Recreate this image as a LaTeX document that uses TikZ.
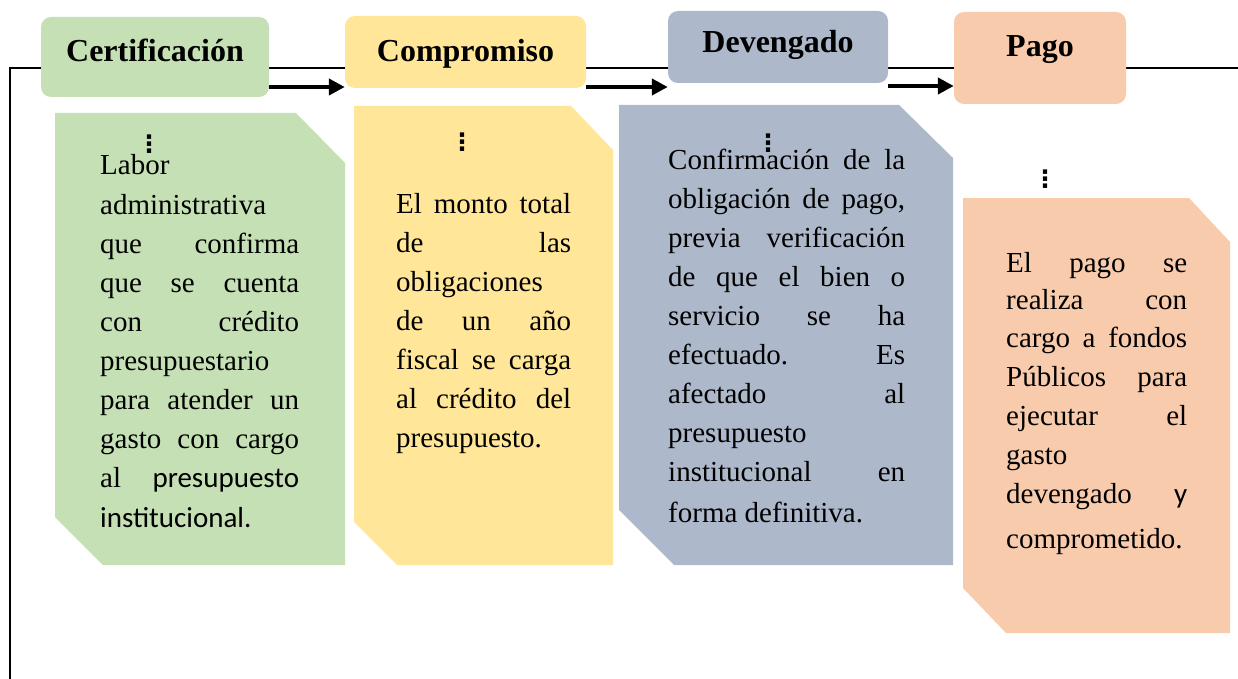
\documentclass[tikz,border=0pt]{standalone}
\usepackage{fontspec}
\setmainfont{Liberation Serif}
\newfontfamily\calib{Carlito}
\newfontfamily\symf{DejaVu Sans}
\usetikzlibrary{arrows.meta}
\definecolor{cgreen}{HTML}{C5E0B4}
\definecolor{cyellow}{HTML}{FFE699}
\definecolor{cblue}{HTML}{ADB9CA}
\definecolor{cpeach}{HTML}{F8CBAD}
\newcommand\jl[2]{\hbox to #1{#2}}
\begin{document}
\begin{tikzpicture}[x=1pt,y=-1pt,
  body/.style={anchor=base west, inner sep=0pt, font=\fontsize{29}{39}\selectfont},
  title/.style={anchor=base, inner xsep=0pt, inner ysep=0pt, rounded corners=10pt,
    font=\fontsize{32}{38}\selectfont\bfseries},
  dots/.style={inner sep=0pt, font=\symf\bfseries\fontsize{24}{24}\selectfont},
  arr/.style={line width=4pt, -{Triangle[length=16pt,width=16pt]}},
  frame/.style={line width=2.5pt}]
\useasboundingbox (0,0) rectangle (1238,679);
\fill[white] (0,0) rectangle (1238,679);
% frame line
\coordinate (fb) at (10,679);
\coordinate (fc) at (10,68);
\coordinate (fr) at (1238,68);
\draw[frame] (fb) -- (fc) -- (fr);
% lower boxes
\fill[cgreen] (55,113) -- (296,113) -- (345,163) -- (345,565) -- (103,565) -- (55,517) -- cycle;
\fill[cyellow] (354,106) -- (571,106) -- (613,150) -- (613,565) -- (397,565) -- (354,522) -- cycle;
\fill[cblue] (619,105) -- (899,105) -- (953,158) -- (953,565) -- (674,565) -- (619,510) -- cycle;
\fill[cpeach] (963,198) -- (1189,198) -- (1230,242) -- (1230,633) -- (1006,633) -- (963,588) -- cycle;
% top boxes
\node[title, fill=cgreen, minimum width=228pt, text height=45pt, text depth=35pt] (cert) at (155,62) {Certificación};
\node[title, fill=cyellow, minimum width=241pt, text height=46pt, text depth=26pt] (comp) at (465.5,62) {Compromiso\hspace{14pt}};
\node[title, fill=cblue, minimum width=220pt, text height=42pt, text depth=30pt] (dev) at (778,53) {Devengado};
\node[title, fill=cpeach, minimum width=172pt, text height=45pt, text depth=47pt] (pago) at (1040,57) {Pago};
% arrows
\draw[arr] (cert.east |- 0,87) -- (comp.west |- 0,87);
\draw[arr] (comp.east |- 0,87) -- (dev.west |- 0,87);
\draw[arr] (dev.east |- 0,86) -- (pago.west |- 0,86);
% dots
\node[dots] (d1) at (149,144) {⋮};
\node[dots] (d2) at (462,142) {⋮};
\node[dots] (d3) at (768,143) {⋮};
\node[dots] (d4) at (1045,179) {⋮};
% green text
\node[body] (g1) at (100,175) {Labor};
\node[body] (g2) at (100,214) {administrativa};
\node[body] (g3) at (100,253) {\jl{199pt}{que\hfill confirma}};
\node[body] (g4) at (100,292) {\jl{199pt}{que\hfill se\hfill cuenta}};
\node[body] (g5) at (100,331) {\jl{199pt}{con\hfill crédito}};
\node[body] (g6) at (100,370) {presupuestario};
\node[body] (g7) at (100,409) {\jl{199pt}{para\hfill atender\hfill un}};
\node[body] (g8) at (100,448) {\jl{199pt}{gasto\hfill con\hfill cargo}};
\node[body] (g9) at (100,487) {\jl{199pt}{al\hfill {\calib presupuesto}}};
\node[body] (g10) at (100,527) {{\calib institucional.}};
% yellow text
\node[body] (y1) at (396,213) {\jl{175pt}{El\hfill monto\hfill total}};
\node[body] (y2) at (396,252) {\jl{175pt}{de\hfill las}};
\node[body] (y3) at (396,291) {obligaciones};
\node[body] (y4) at (396,330) {\jl{175pt}{de\hfill un\hfill año}};
\node[body] (y5) at (396,369) {\jl{175pt}{fiscal\hfill se\hfill carga}};
\node[body] (y6) at (396,408) {\jl{175pt}{al\hfill crédito\hfill del}};
\node[body] (y7) at (396,447) {presupuesto.};
% blue text
\node[body] (b1) at (668,169) {\jl{237pt}{Confirmación\hfill de\hfill la}};
\node[body] (b2) at (668,208) {\jl{237pt}{obligación\hfill de\hfill pago,}};
\node[body] (b3) at (668,247) {\jl{237pt}{previa\hfill verificación}};
\node[body] (b4) at (668,286) {\jl{237pt}{de\hfill que\hfill el\hfill bien\hfill o}};
\node[body] (b5) at (668,325) {\jl{237pt}{servicio\hfill se\hfill ha}};
\node[body] (b6) at (668,364) {\jl{237pt}{efectuado.\hfill Es}};
\node[body] (b7) at (668,403) {\jl{237pt}{afectado\hfill al}};
\node[body] (b8) at (668,442) {presupuesto};
\node[body] (b9) at (668,481) {\jl{237pt}{institucional\hfill en}};
\node[body] (b10) at (668,522) {forma definitiva.};
% peach text
\node[body] (p1) at (1006,272) {\jl{181pt}{El\hfill pago\hfill se}};
\node[body] (p2) at (1006,309) {\jl{181pt}{realiza\hfill con}};
\node[body] (p3) at (1006,347) {\jl{181pt}{cargo\hfill a\hfill fondos}};
\node[body] (p4) at (1006,386) {\jl{181pt}{Públicos\hfill para}};
\node[body] (p5) at (1006,425) {\jl{181pt}{ejecutar\hfill el}};
\node[body] (p6) at (1006,464) {gasto};
\node[body] (p7) at (1006,503) {\jl{181pt}{devengado\hfill {\calib y}}};
\node[body] (p8) at (1006,548) {comprometido.};
\end{tikzpicture}
\end{document}
